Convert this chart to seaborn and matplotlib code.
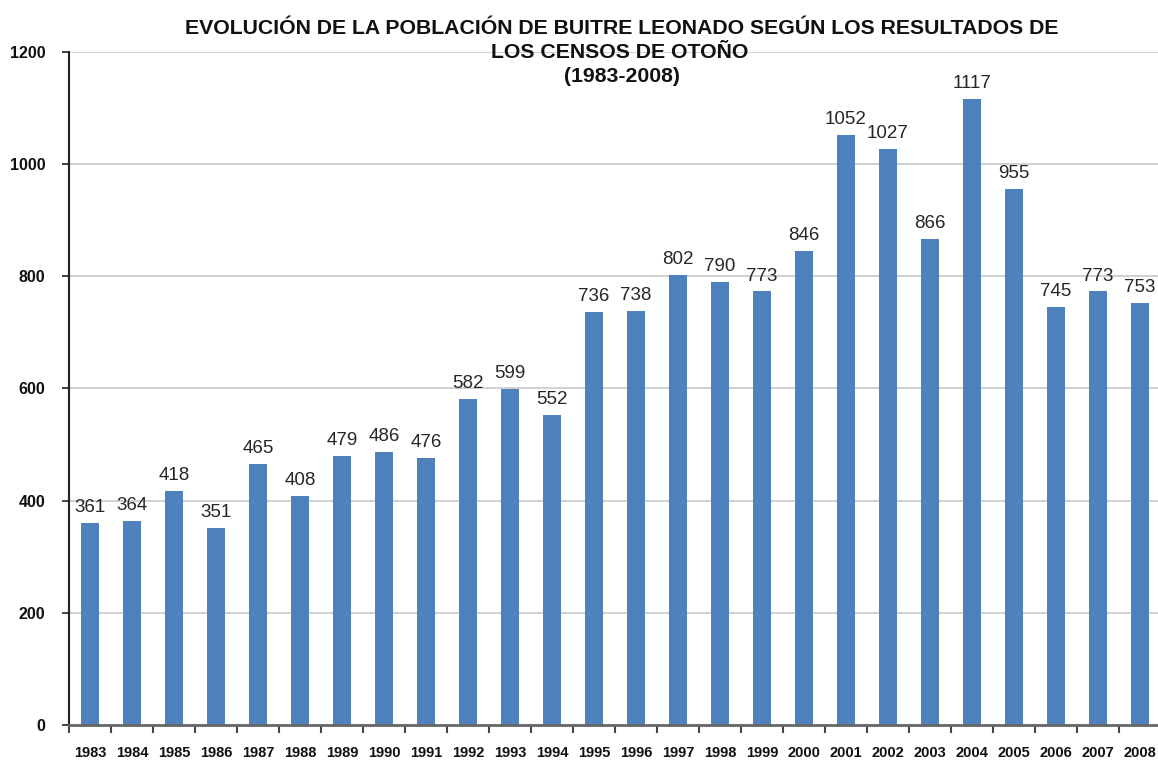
import matplotlib
matplotlib.use("Agg")
import matplotlib.pyplot as plt
import seaborn as sns
import pandas as pd
from matplotlib.ticker import FixedLocator, NullFormatter, FixedFormatter

years = [str(y) for y in range(1983, 2009)]
values = [361, 364, 418, 351, 465, 408, 479, 486, 476, 582, 599, 552, 736,
          738, 802, 790, 773, 846, 1052, 1027, 866, 1117, 955, 745, 773, 753]
y_ticks = [0, 200, 400, 600, 800, 1000, 1200]

title_lines = ["EVOLUCIÓN DE LA POBLACIÓN DE BUITRE LEONADO SEGÚN LOS RESULTADOS DE",
               "LOS CENSOS DE OTOÑO",
               "(1983-2008)"]

sns.set_theme(style="white")
fam = ["Liberation Sans", "DejaVu Sans"]
plt.rcParams["font.family"] = fam

df = pd.DataFrame({"year": years, "value": values})

fig = plt.figure(figsize=(11.58, 7.62), dpi=100)
ax = fig.add_axes([69/1158, 1-725/762, (1161-69)/1158, (725-52)/762])

for yv in y_ticks[1:]:
    ax.axhline(yv, color="#c8c8c8", lw=1.2, zorder=0)

sns.barplot(data=df, x="year", y="value", color="#4F81BD", saturation=1,
            width=0.42, linewidth=0, ax=ax, zorder=2)

for c in ax.containers:
    ax.bar_label(c, labels=[str(v) for v in values], padding=5,
                 fontsize=13.5, family=fam, color="#262626")

ax.set_xlim(-0.5, len(years) - 0.5)
ax.set_ylim(0, 1200)
ax.set_xlabel("")
ax.set_ylabel("")

# y axis
ax.yaxis.set_major_locator(FixedLocator(y_ticks))
ax.set_yticklabels([str(v) for v in y_ticks], family=fam,
                   fontweight="bold", fontsize=11.5, color="#111111")
ax.tick_params(axis="y", which="major", left=True, direction="out",
               length=5, width=1.2, color="#222222", pad=12)

# x axis: ticks at boundaries, labels at centers
ax.xaxis.set_major_locator(FixedLocator([i - 0.5 for i in range(len(years) + 1)]))
ax.xaxis.set_major_formatter(NullFormatter())
ax.xaxis.set_minor_locator(FixedLocator(list(range(len(years)))))
ax.xaxis.set_minor_formatter(FixedFormatter(years))
ax.tick_params(axis="x", which="major", bottom=True, direction="out",
               length=6, width=1.5, color="#444444")
ax.tick_params(axis="x", which="minor", bottom=False, length=0, pad=15)
for lbl in ax.xaxis.get_minorticklabels():
    lbl.set_family(fam)
    lbl.set_fontweight("bold")
    lbl.set_fontsize(10.5)
    lbl.set_color("#111111")

for s in ["top", "right"]:
    ax.spines[s].set_visible(False)
ax.spines["left"].set_color("#222222")
ax.spines["left"].set_linewidth(1.5)
ax.spines["bottom"].set_color("#666666")
ax.spines["bottom"].set_linewidth(2)

fig.text(622/1158, 1-28/762, title_lines[0], ha="center", va="center",
         fontsize=15.3, fontweight="bold", color="#111111")
fig.text(620/1158, 1-52/762, title_lines[1], ha="center", va="center",
         fontsize=15.3, fontweight="bold", color="#111111")
fig.text(622/1158, 1-76/762, title_lines[2], ha="center", va="center",
         fontsize=15.3, fontweight="bold", color="#111111")

fig.savefig("out.png", dpi=100)
